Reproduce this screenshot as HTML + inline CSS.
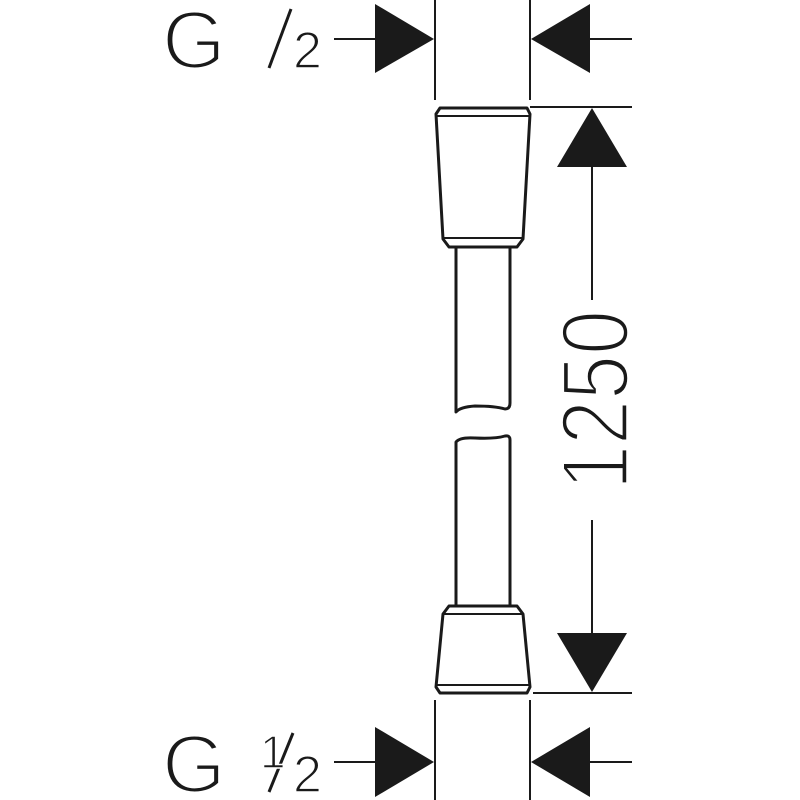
<!DOCTYPE html>
<html><head><style>html,body{margin:0;padding:0;background:#fff}svg{display:block}</style></head>
<body>
<svg width="800" height="800" viewBox="0 0 800 800" xmlns="http://www.w3.org/2000/svg">
<g stroke="#1a1a1a" fill="none" stroke-width="2">
<line x1="435" y1="0" x2="435" y2="100"/>
<line x1="530" y1="0" x2="530" y2="100"/>
<line x1="334" y1="39" x2="375" y2="39"/>
<line x1="590" y1="39" x2="632" y2="39"/>
<line x1="435" y1="700" x2="435" y2="800"/>
<line x1="530" y1="700" x2="530" y2="800"/>
<line x1="334" y1="762" x2="375" y2="762"/>
<line x1="590" y1="762" x2="632" y2="762"/>
<line x1="530" y1="107" x2="632" y2="107"/>
<line x1="533" y1="693" x2="632" y2="693"/>
<line x1="592" y1="167" x2="592" y2="300"/>
<line x1="592" y1="520" x2="592" y2="633"/>
</g>
<g fill="#1a1a1a">
<polygon points="375,4 434,39 375,73"/>
<polygon points="590,4 531,39 590,73"/>
<polygon points="375,727 434,762 375,797"/>
<polygon points="590,727 531,762 590,797"/>
<polygon points="592,108 557,167 627,167"/>
<polygon points="592,692 557,633 627,633"/>
</g>
<g stroke="#1a1a1a" fill="none" stroke-width="3" stroke-linejoin="round">
<path d="M440,108 L527,108 L530,114 L523,239 L517,247 L449,247 L443,239 L436,114 Z"/>
<line x1="437" y1="116" x2="529" y2="116" stroke-width="2"/>
<line x1="443" y1="238" x2="523" y2="238" stroke-width="2"/>
<path d="M456,247 L456,412 Q460,407 475,406 Q495,406 505,409 Q510,409 510,403 L510,247"/>
<path d="M456,606 L456,442 Q460,437 475,438 Q495,439 505,436 Q510,435 510,440 L510,606"/>
<path d="M449,606 L517,606 L523,614 L530,687 L527,693 L440,693 L436,687 L443,614 Z"/>
<line x1="443" y1="614" x2="523" y2="614" stroke-width="2"/>
<line x1="437" y1="685" x2="529" y2="685" stroke-width="2"/>
<line x1="269" y1="68" x2="291" y2="9" stroke-width="3"/>
<line x1="269" y1="792" x2="293" y2="733" stroke-width="3"/>
</g>
<g font-family="Liberation Sans, sans-serif" fill="#1a1a1a" stroke="#fff">
<text x="162" y="68" font-size="82" stroke-width="3">G</text>
<text x="293" y="68" font-size="52" stroke-width="1.5">2</text>
<text x="162" y="792" font-size="82" stroke-width="3">G</text>
<text x="260" y="768" font-size="46" stroke-width="1.5">1</text>
<text x="293" y="792" font-size="52" stroke-width="1.5">2</text>
<text transform="translate(628,490) rotate(-90)" font-size="96" stroke-width="3.5" textLength="180" lengthAdjust="spacingAndGlyphs">1250</text>
</g>
</svg>
</body></html>
